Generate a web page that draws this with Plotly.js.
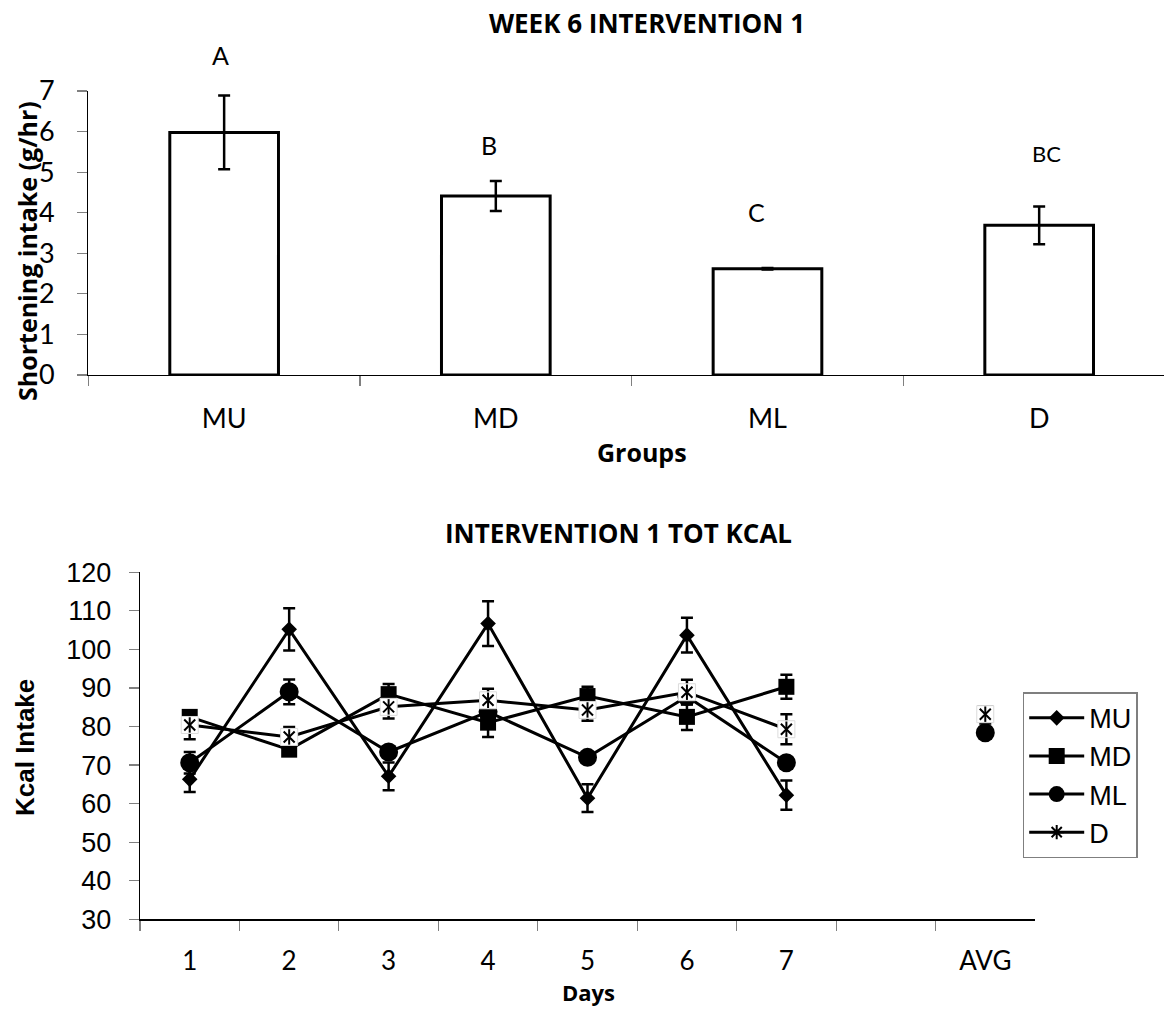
<!DOCTYPE html>
<html>
<head>
<meta charset="utf-8">
<script src="https://cdn.plot.ly/plotly-3.0.1.min.js"></script>
<style>
html,body{margin:0;padding:0;background:#fff;overflow:hidden;}
#chart{width:1164px;height:1009px;}
</style>
</head>
<body>
<div id="chart"></div>
<script>
// ---------- Data: top chart (Week 6 Intervention 1) ----------
const groups = ['MU', 'MD', 'ML', 'D'];
const shortening = [5.98, 4.41, 2.62, 3.69];
const shorteningErr = [0.91, 0.37, 0.02, 0.465];
const sigLetters = ['A', 'B', 'C', 'BC'];

// ---------- Data: bottom chart (Intervention 1 total kcal) ----------
const dayLabels = ['1', '2', '3', '4', '5', '6', '7', ' ', 'AVG'];
const kcalMU = [66.3, 105.2, 67.1, 106.7, 61.4, 103.7, 62.2, null, 81.8];
const kcalMUErr = [3.3, 5.5, 3.6, 5.8, 3.6, 4.5, 3.8, null, 1.0];
const kcalMD = [82.5, 74.0, 88.4, 81.0, 87.9, 82.5, 90.3, null, 83.4];
const kcalMDErr = [1.7, 1.0, 2.6, 3.7, 2.4, 3.4, 3.1, null, 1.0];
const kcalML = [70.6, 89.0, 73.4, 83.8, 72.0, 87.8, 70.6, null, 78.4];
const kcalMLErr = [2.8, 3.2, 1.5, 2.0, 1.2, 2.0, 1.0, null, 0.8];
const kcalD = [80.4, 77.3, 85.1, 86.8, 84.3, 88.9, 79.3, null, 83.2];
const kcalDErr = [3.7, 2.6, 3.0, 3.0, 2.8, 3.2, 3.9, null, 0.8];

// ---------- helpers ----------
const W = 1164, H = 1009;
const px = x => x / W;
const py = y => 1 - y / H;
const CAL = 'Lato, "Open Sans", sans-serif';
const BOLD = '"Open Sans", Lato, sans-serif';
const ARI = '"Liberation Sans", Arial, sans-serif';

function errY(arr) {
  return {type: 'data', array: arr, visible: true, color: '#000', thickness: 2.5, width: 6};
}

const traces = [];

// top bars
traces.push({
  type: 'bar', x: groups, y: shortening, xaxis: 'x', yaxis: 'y',
  width: 0.4,
  marker: {color: '#fff', line: {color: '#000', width: 3}},
  error_y: {type: 'data', array: shorteningErr, visible: true,
            color: '#000', thickness: 2.5, width: 6},
  showlegend: false, hoverinfo: 'x+y'
});

// bottom line series
const lineCommon = {type: 'scatter', mode: 'lines+markers', xaxis: 'x2', yaxis: 'y2',
                    connectgaps: false, line: {color: '#000', width: 3}, cliponaxis: false};
traces.push(Object.assign({}, lineCommon, {
  name: 'MU', x: dayLabels, y: kcalMU, error_y: errY(kcalMUErr), legendgroup: 'g1',
  marker: {symbol: 'diamond', size: 12, color: '#000', line: {width: 0}}
}));
traces.push(Object.assign({}, lineCommon, {
  name: 'MD', x: dayLabels, y: kcalMD, error_y: errY(kcalMDErr), legendgroup: 'g2',
  marker: {symbol: 'square', size: 16, color: '#000', line: {width: 0}}
}));
traces.push(Object.assign({}, lineCommon, {
  name: 'ML', x: dayLabels, y: kcalML, error_y: errY(kcalMLErr), legendgroup: 'g3',
  marker: {symbol: 'circle', size: 19, color: '#000', line: {width: 0}}
}));
traces.push(Object.assign({}, lineCommon, {
  name: 'D', x: dayLabels, y: kcalD, error_y: errY(kcalDErr), legendgroup: 'g4',
  marker: {symbol: 'asterisk-open', size: 12, color: '#000', line: {width: 2, color: '#000'}}
}));
// D marker: white backing box, X and vertical stroke (Excel star marker)
traces.push({
  type: 'scatter', mode: 'markers', x: dayLabels, y: kcalD, xaxis: 'x2', yaxis: 'y2',
  showlegend: false, hoverinfo: 'skip', cliponaxis: false,
  marker: {symbol: 'square', size: 17, color: '#fff', line: {width: 1, color: '#dcdcdc'}}
});
traces.push({
  type: 'scatter', mode: 'markers', x: dayLabels, y: kcalD, xaxis: 'x2', yaxis: 'y2',
  showlegend: false, hoverinfo: 'skip', cliponaxis: false,
  marker: {symbol: 'x-thin-open', size: 11, color: '#000', line: {width: 2, color: '#000'}}
});
traces.push({
  type: 'scatter', mode: 'markers', x: dayLabels, y: kcalD, xaxis: 'x2', yaxis: 'y2',
  showlegend: false, hoverinfo: 'skip', cliponaxis: false,
  marker: {symbol: 'line-ns-open', size: 11, color: '#000', line: {width: 2, color: '#000'}}
});

// annotations
const annotations = [];
const letterPos = [[220, 55, 25], [489, 145, 25], [756, 212, 25], [1046, 154, 22]];
sigLetters.forEach((t, i) => {
  annotations.push({text: t, xref: 'paper', yref: 'paper', x: px(letterPos[i][0]), y: py(letterPos[i][1]),
    xanchor: 'center', yanchor: 'middle', showarrow: false,
    font: {family: CAL, size: letterPos[i][2], color: '#000'}});
});
annotations.push({text: 'Shortening intake (g/hr)', xref: 'paper', yref: 'paper', x: px(27), y: py(251),
  xanchor: 'center', yanchor: 'middle', textangle: -90, showarrow: false,
  font: {family: BOLD, size: 25, color: '#000', weight: 'bold'}});
annotations.push({text: 'Groups', xref: 'paper', yref: 'paper', x: px(642), y: py(452),
  xanchor: 'center', yanchor: 'middle', showarrow: false,
  font: {family: BOLD, size: 25, color: '#000', weight: 'bold'}});
annotations.push({text: 'INTERVENTION 1 TOT KCAL', xref: 'paper', yref: 'paper', x: px(618), y: py(533),
  xanchor: 'center', yanchor: 'middle', showarrow: false,
  font: {family: BOLD, size: 26, color: '#000', weight: 'bold'}});
annotations.push({text: 'Kcal Intake', xref: 'paper', yref: 'paper', x: px(25), y: py(748),
  xanchor: 'center', yanchor: 'middle', textangle: -90, showarrow: false,
  font: {family: ARI, size: 26, color: '#000', weight: 'bold'}});
annotations.push({text: 'Days', xref: 'paper', yref: 'paper', x: px(588), y: py(1008),
  xanchor: 'center', yanchor: 'bottom', showarrow: false, borderpad: 0,
  font: {family: BOLD, size: 22, color: '#000', weight: 'bold'}});

const axBase = {showgrid: false, zeroline: false, showline: true, linecolor: '#000', linewidth: 1.2,
                ticks: 'outside', ticklen: 10, tickwidth: 1.2, tickcolor: '#808080'};

const layout = {
  width: W, height: H,
  margin: {l: 0, r: 0, t: 0, b: 0},
  paper_bgcolor: '#fff', plot_bgcolor: 'rgba(0,0,0,0)',
  title: {text: 'WEEK 6 INTERVENTION 1', x: px(647), y: py(24), xref: 'paper', yref: 'paper',
          xanchor: 'center', yanchor: 'middle',
          font: {family: BOLD, size: 26, color: '#000', weight: 'bold'}},
  xaxis: Object.assign({}, axBase, {
    domain: [px(88.3), 1], anchor: 'y', type: 'category', range: [-0.5, 3.4595],
    tickson: 'boundaries', ticklabelstandoff: 19,
    tickfont: {family: CAL, size: 27, color: '#000'}
  }),
  yaxis: Object.assign({}, axBase, {
    domain: [py(375), py(91)], anchor: 'x', range: [0, 7], dtick: 1, tick0: 0,
    ticklabelstandoff: 17,
    tickfont: {family: CAL, size: 27, color: '#000'}
  }),
  xaxis2: Object.assign({}, axBase, {
    domain: [px(140), px(1035)], anchor: 'y2', type: 'category',
    categoryorder: 'array', categoryarray: dayLabels, range: [-0.5, 8.5],
    tickson: 'boundaries', ticklabelstandoff: 18,
    tickfont: {family: CAL, size: 26, color: '#000'}
  }),
  yaxis2: Object.assign({}, axBase, {
    domain: [py(919.3), py(572.3)], anchor: 'x2', range: [30, 120], dtick: 10, tick0: 30,
    ticklabelstandoff: 12,
    tickfont: {family: ARI, size: 27, color: '#000'}
  }),
  legend: {
    x: px(1022.7), y: py(692.3), xanchor: 'left', yanchor: 'top',
    bgcolor: '#fff', bordercolor: '#7f7f7f', borderwidth: 1.5,
    font: {family: ARI, size: 27, color: '#000'},
    itemwidth: 55, tracegroupgap: 1, traceorder: 'normal'
  },
  annotations: annotations,
  showlegend: true
};

Plotly.newPlot('chart', traces, layout, {staticPlot: true, displayModeBar: false});
</script>
</body>
</html>
